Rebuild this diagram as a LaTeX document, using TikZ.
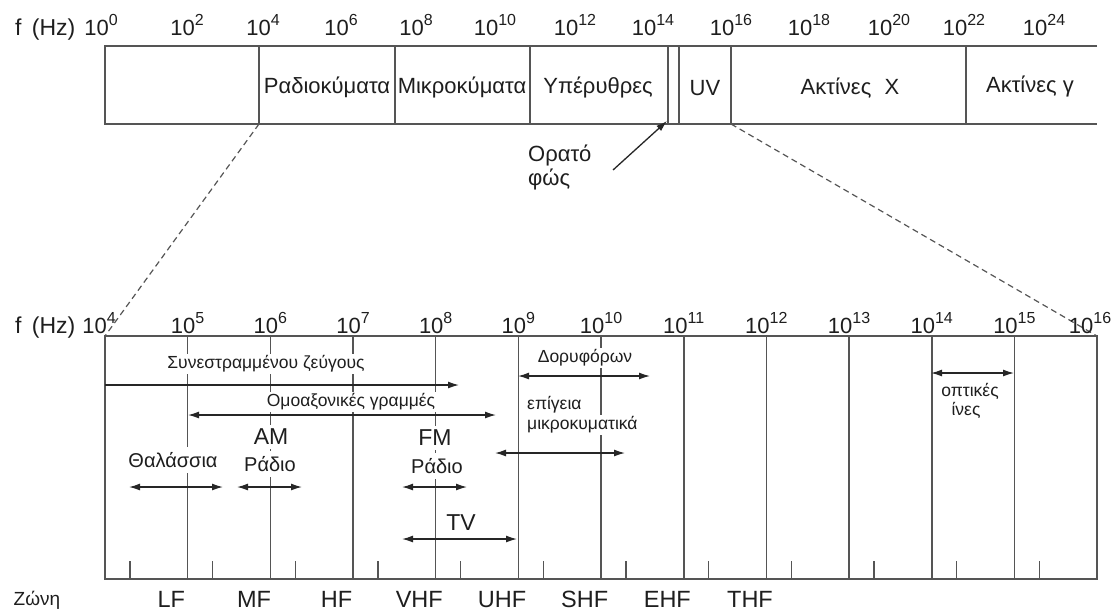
\documentclass[tikz,border=0pt]{standalone}
\usepackage{fontspec}
\setmainfont{Liberation Sans}
\usetikzlibrary{arrows.meta}
\definecolor{lng}{RGB}{85,85,85}
\definecolor{txc}{RGB}{30,30,30}
\newcommand\tenpow[1]{10\raisebox{0.42em}{\fontsize{16}{16}\selectfont #1}}
\begin{document}
\begin{tikzpicture}[x=1pt,y=-1pt,
  ln/.style={draw=lng,line width=1.6pt},
  tk/.style={draw=lng,line width=1.2pt},
  arr/.style={draw=black!85,line width=1.3pt,{Latex[length=11pt,width=7pt]}-{Latex[length=11pt,width=7pt]}},
  rarr/.style={draw=black!85,line width=1.3pt,-{Latex[length=11pt,width=7pt]}},
  dsh/.style={draw=lng,line width=1.2pt,dash pattern=on 6pt off 4pt},
  ex/.style={font=\fontsize{22}{24}\selectfont,text=txc,inner sep=0pt,anchor=base},
  bigl/.style={font=\fontsize{23}{26}\selectfont,text=txc,fill=white,inner xsep=1pt,inner ysep=4pt},
  zone/.style={font=\fontsize{23.5}{26}\selectfont,text=txc,inner sep=1pt,anchor=base},
  midl/.style={font=\fontsize{20}{23}\selectfont,text=txc,fill=white,inner xsep=1pt,inner ysep=5pt},
  sml/.style={font=\fontsize{17.5}{20}\selectfont,text=txc,fill=white,inner xsep=1pt,inner ysep=2pt},
  band/.style={font=\fontsize{22}{24}\selectfont,text=txc,inner sep=1pt},
  fhz/.style={font=\fontsize{23}{24}\selectfont,text=txc,inner sep=0pt,anchor=base west},
]
\useasboundingbox (0,0) rectangle (1115,614);

% top bar
\draw[ln] (1097,46) -- (105,46) -- (105,124) -- (1097,124);
\foreach \x in {259,395,530,668,679,731,966} \draw[ln] (\x,46) -- (\x,124);

% bottom frame
\draw[ln] (105,336) rectangle (1097,579);
\foreach \k in {1,...,11} \draw[ln] ({105+82.67*\k},336) -- ({105+82.67*\k},579);
\foreach \k in {0,...,11} \draw[tk] ({130+82.67*\k},561) -- ({130+82.67*\k},579);

% zoom lines
\coordinate (zl1) at (259,124);
\coordinate (zl2) at (105,336);
\coordinate (zr1) at (731,124);
\coordinate (zr2) at (1097,336);
\draw[dsh] (zl1) -- (zl2);
\draw[dsh] (zr1) -- (zr2);

% top axis labels
\node[fhz] (fhz1) at (15,35) {f\hspace{0.45em}(Hz)};
\foreach \x/\e [count=\i] in {101/0,187/2,263/4,341/6,416/8,495/10,575/12,653/14,731/16,809/18,889/20,964/22,1044/24}
  \node[ex] (te\i) at (\x,35) {\tenpow{\e}};

% band names
\node[band] (radio) at (327,87) {Ραδιοκύματα};
\node[band] (micro) at (462,87) {Μικροκύματα};
\node[band] (ir) at (598,87) {Υπέρυθρες};
\node[band] (uv) at (705,88) {UV};
\node[band] (xray) at (850,88) {Ακτίνες\hspace{0.6em}X};
\node[band] (gamma) at (1030,86) {Ακτίνες γ};

% visible light
\node[band,anchor=west] (vis1) at (527,155) {Ορατό};
\node[band,anchor=west] (vis2) at (527,179) {φώς};
\coordinate (visA) at (613,170);
\coordinate (visB) at (667,121);
\draw[rarr] (visA) -- (visB);

% bottom axis labels
\node[fhz] (fhz2) at (15,333) {f\hspace{0.45em}(Hz)};
\node[ex] (be4) at (99,333) {\tenpow{4}};
\foreach \k in {5,...,15} \node[ex] (be\k) at ({105+82.67*(\k-4)},333) {\tenpow{\k}};
\node[ex] (be16) at (1090,333) {\tenpow{16}};

% labels inside the lower frame
\node[sml] (syn) at (266,364) {Συνεστραμμένου ζεύγους};
\node[sml] (coax) at (351,402) {Ομοαξονικές γραμμές};
\node[bigl] (am) at (271,437) {AM};
\node[midl] (amr) at (270,464) {Ράδιο};
\node[midl] (mar) at (173,460) {Θαλάσσια};
\node[bigl] (fm) at (435,438) {FM};
\node[midl] (fmr) at (437,466) {Ράδιο};
\node[bigl] (tv) at (461,523) {TV};
\node[sml] (sat) at (585,358) {Δορυφόρων};
\node[sml,anchor=west] (ter1) at (526,405) {επίγεια};
\node[sml,anchor=west] (ter2) at (526,425) {μικροκυματικά};
\node[sml] (fib1) at (970,391) {οπτικές};
\node[sml] (fib2) at (966,410) {ίνες};

% range arrows
\coordinate (synA) at (105,385);  \coordinate (synB) at (459,385);
\coordinate (coaxA) at (188,415); \coordinate (coaxB) at (496,415);
\coordinate (marA) at (129,487);  \coordinate (marB) at (223,487);
\coordinate (amA) at (237,487);   \coordinate (amB) at (302,487);
\coordinate (fmA) at (402,487);   \coordinate (fmB) at (467,487);
\coordinate (tvA) at (402,539);   \coordinate (tvB) at (517,539);
\coordinate (terA) at (495,453);  \coordinate (terB) at (625,453);
\coordinate (satA) at (518,376);  \coordinate (satB) at (650,376);
\coordinate (fibA) at (931,373);  \coordinate (fibB) at (1014,373);
\draw[rarr] (synA) -- (synB);
\draw[arr] (coaxA) -- (coaxB);
\draw[arr] (marA) -- (marB);
\draw[arr] (amA) -- (amB);
\draw[arr] (fmA) -- (fmB);
\draw[arr] (tvA) -- (tvB);
\draw[arr] (terA) -- (terB);
\draw[arr] (satA) -- (satB);
\draw[arr] (fibA) -- (fibB);

% zones
\node[font=\fontsize{19}{20}\selectfont,text=txc,inner sep=0pt,anchor=base] (zn) at (37,605) {Ζώνη};
\foreach \z [count=\i from 0] in {LF,MF,HF,VHF,UHF,SHF,EHF,THF}
  \node[zone] (z\i) at ({171.3+82.67*\i},607) {\z};
\end{tikzpicture}
\end{document}
